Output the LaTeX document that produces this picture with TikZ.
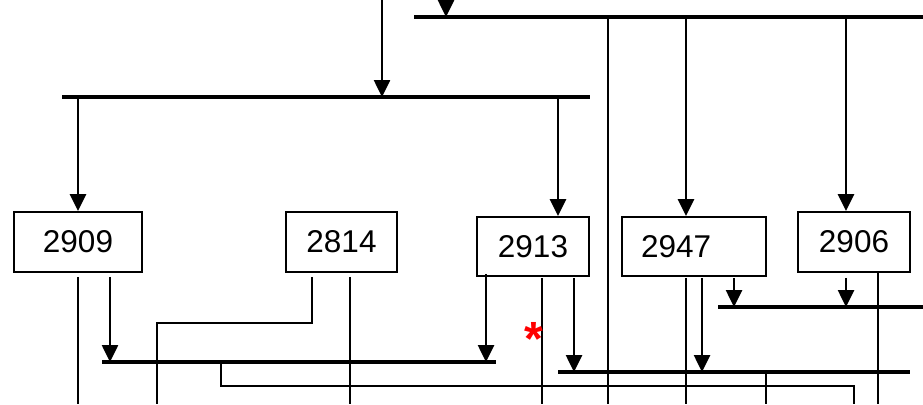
\documentclass[tikz,border=0pt]{standalone}
\usepackage{fontspec}
\setmainfont{Liberation Sans}
\usetikzlibrary{arrows.meta}
\tikzset{
  box/.style={draw, line width=1.8pt, inner sep=0pt, font=\fontsize{31.5}{31.5}\selectfont},
  bus/.style={line width=4.2pt},
  wire/.style={line width=2.6pt},
  thinwire/.style={line width=1.6pt},
  arr/.style={wire, -{Triangle[width=16pt,length=17pt]}},
}
\begin{document}
\begin{tikzpicture}[x=1pt,y=-1pt]
\useasboundingbox (0,0) rectangle (923,404);
% boxes
\node[box, minimum width=128pt, minimum height=60pt] (b2909) at (78,242) {2909};
\node[box, minimum width=111pt, minimum height=60pt] (b2814) at (341.5,242) {2814};
\node[box, minimum width=112pt, minimum height=59pt] (b2913) at (533,246.5) {2913};
\node[box, minimum width=144pt, minimum height=59pt] (b2947) at (694,246.5) {\makebox[106pt][l]{2947}};
\node[box, minimum width=112pt, minimum height=60pt] (b2906) at (854,242) {2906};
% bus end points
\coordinate (top1) at (414,17);  \coordinate (top2) at (923,17);
\coordinate (bus2a) at (62,97);  \coordinate (bus2b) at (590,97);
\coordinate (bus3a) at (102,362); \coordinate (bus3b) at (496,362);
\coordinate (bus4a) at (558,372); \coordinate (bus4b) at (910,372);
\coordinate (bus5a) at (718,307); \coordinate (bus5b) at (923,307);
\coordinate (in1) at (446,0); \coordinate (in2) at (382,0);
\coordinate (bot) at (0,404);
% buses
\draw[bus] (top1) -- (top2);
\draw[bus] (bus2a) -- (bus2b);
\draw[bus] (bus3a) -- (bus3b);
\draw[bus] (bus4a) -- (bus4b);
\draw[bus] (bus5a) -- (bus5b);
% incoming
\draw[arr] (in1) -- (in1 |- top1);
\draw[arr] (in2) -- (in2 |- bus2a);
% from bus2
\draw[arr] (b2909.north |- bus2a) -- (b2909.north);
\draw[arr] ([xshift=25pt]b2913.north |- bus2a) -- ([xshift=25pt]b2913.north);
% from top bus
\coordinate (v608) at (608,19);
\draw[wire] (v608) -- (v608 |- bot);
\draw[arr] ([xshift=-8pt]b2947.north |- top1) -- ([xshift=-8pt]b2947.north);
\draw[arr] ([xshift=-8pt]b2906.north |- top1) -- ([xshift=-8pt]b2906.north);
% 2909
\draw[wire] ([yshift=-4pt]b2909.south) -- (b2909.south |- bot);
\draw[arr] ([xshift=32pt,yshift=-4pt]b2909.south) -- ([xshift=32pt]b2909.south |- bus3a);
% 2814
\draw[wire] ([xshift=-29.5pt,yshift=-4pt]b2814.south) |- (157,323) -- (157,404);
\draw[wire] ([xshift=8.5pt,yshift=-4pt]b2814.south) -- ([xshift=8.5pt]b2814.south |- bot);
% 2913
\draw[arr] ([xshift=-47pt,yshift=3pt]b2913.south) -- ([xshift=-47pt]b2913.south |- bus3a);
\draw[wire] ([xshift=9pt,yshift=-1pt]b2913.south) -- ([xshift=9pt]b2913.south |- bot);
\draw[arr] ([xshift=41pt,yshift=-1pt]b2913.south) -- ([xshift=41pt]b2913.south |- bus4a);
% 2947
\draw[wire] ([xshift=-8pt,yshift=-1pt]b2947.south) -- ([xshift=-8pt]b2947.south |- bot);
\draw[arr] ([xshift=8pt,yshift=-1pt]b2947.south) -- ([xshift=8pt]b2947.south |- bus4a);
\draw[arr] ([xshift=40pt,yshift=-1pt]b2947.south) -- ([xshift=40pt]b2947.south |- bus5a);
% 2906
\draw[arr] ([xshift=-8pt,yshift=-5pt]b2906.south) -- ([xshift=-8pt]b2906.south |- bus5a);
\draw[wire] ([xshift=24pt]b2906.south) -- ([xshift=24pt]b2906.south |- bot);
% bus4 down
\coordinate (v766) at (766,372);
\draw[wire] (v766) -- (v766 |- bot);
% thin wire
\coordinate (t1) at (221,362);
\draw[thinwire] (t1) -- (221,386) -- (854,386) -- (854,404);
% red asterisk
\node[anchor=base, text=red, inner sep=0pt, font=\fontsize{48}{48}\selectfont\bfseries] (star) at (534,355) {*};
\end{tikzpicture}
\end{document}
